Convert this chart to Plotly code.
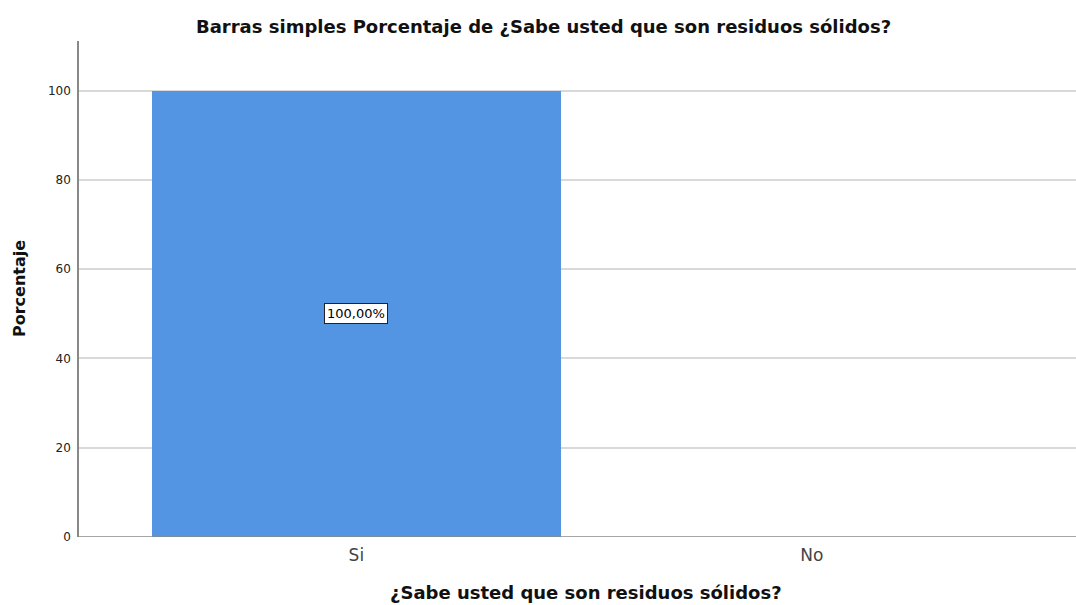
import plotly.graph_objects as go

categories = ["Si", "No"]
percentages = [100.0, 0.0]
bar_labels = ["100,00%", ""]
y_ticks = [0, 20, 40, 60, 80, 100]

W, H = 1076, 605
L, R, T, B = 79, 0, 41, 68
PW, PH = W - L - R, H - T - B
FONT = "DejaVu Sans, Liberation Sans, Arial"

fig = go.Figure()
fig.add_trace(go.Bar(
    x=categories, y=percentages, width=0.898,
    marker=dict(color="#5495e3", line=dict(width=0)),
    hoverinfo="skip", showlegend=False,
))

for c, v, lab in zip(categories, percentages, bar_labels):
    if lab:
        fig.add_annotation(
            x=c, y=v / 2, text=lab, showarrow=False,
            font=dict(family=FONT, size=13, color="#000000"),
            bgcolor="#ffffff", bordercolor="#222222", borderwidth=1, borderpad=2,
        )

def px_x(x):
    return (x - L) / PW

def px_y(y):
    return 1 - (y - T) / PH

fig.add_annotation(
    xref="paper", yref="paper", x=px_x(543), y=px_y(27),
    text="<b>Barras simples Porcentaje de ¿Sabe usted que son residuos sólidos?</b>",
    showarrow=False, xanchor="center", yanchor="middle",
    font=dict(family=FONT, size=18, color="#111111"),
)
fig.add_annotation(
    xref="paper", yref="paper", x=px_x(586), y=px_y(592),
    text="<b>¿Sabe usted que son residuos sólidos?</b>",
    showarrow=False, xanchor="center", yanchor="middle",
    font=dict(family=FONT, size=18, color="#111111"),
)
fig.add_annotation(
    xref="paper", yref="paper", x=px_x(19), y=px_y(289),
    text="<b>Porcentaje</b>", textangle=-90,
    showarrow=False, xanchor="center", yanchor="middle",
    font=dict(family=FONT, size=16, color="#111111"),
)

fig.update_layout(
    width=W, height=H,
    margin=dict(l=L, r=R, t=T, b=B),
    paper_bgcolor="#ffffff", plot_bgcolor="#ffffff",
    bargap=0,
    xaxis=dict(
        range=[-0.609, 1.580], showgrid=False, zeroline=False,
        showline=False, ticks="", ticklabelstandoff=6,
        tickfont=dict(family=FONT, size=17, color="#444444"),
    ),
    yaxis=dict(
        range=[0, 111.1], tickvals=y_ticks, ticktext=[str(t) for t in y_ticks],
        showgrid=True, gridcolor="#d9d9d9", gridwidth=2,
        zeroline=False, showline=True, linecolor="#888888", linewidth=1.5,
        ticks="", ticklabelstandoff=4,
        tickfont=dict(family=FONT, size=12, color="#222222"),
    ),
    shapes=[dict(type="line", xref="paper", yref="y", x0=0, x1=1, y0=0, y1=0,
                 line=dict(color="#888888", width=1.5), layer="above")],
)

fig.write_html(
    "out.html",
    config={"displayModeBar": False},
    post_script="document.body.style.margin='0';document.body.style.overflow='hidden';",
)
